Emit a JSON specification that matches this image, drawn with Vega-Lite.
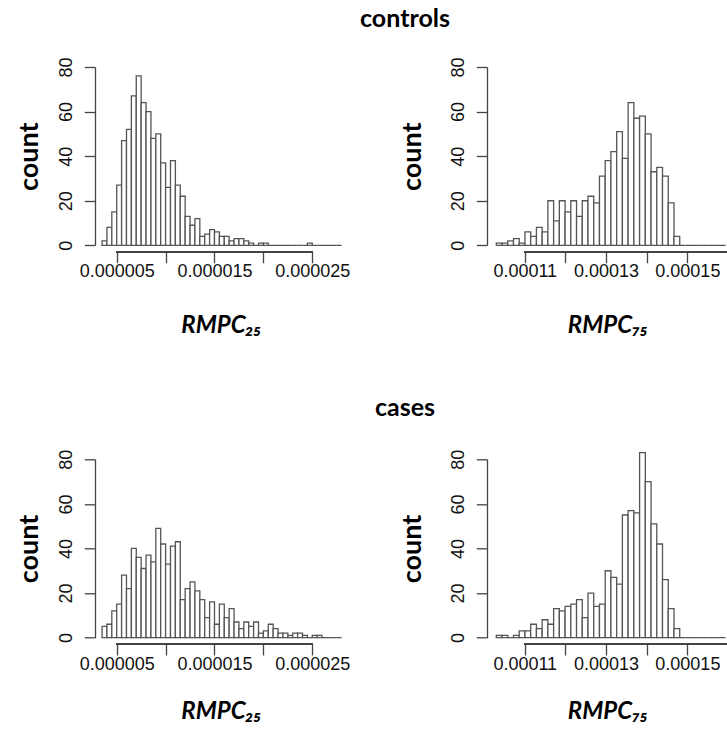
{
  "$schema": "https://vega.github.io/schema/vega-lite/v6.json",
  "background": "white",
  "padding": {"left": 15, "top": 6, "right": 0, "bottom": 0},
  "config": {
    "view": {"stroke": null},
    "axis": {
      "grid": false,
      "labelFont": "Liberation Sans",
      "labelFontSize": 18,
      "labelColor": "#111111",
      "titleFont": "Lato",
      "titleFontWeight": "bold",
      "titleFontSize": 24,
      "titleColor": "#000000",
      "domainColor": "#444444",
      "tickColor": "#444444",
      "domainWidth": 1.3,
      "tickWidth": 1.3,
      "tickSize": 10.7
    },
    "axisY": {"titleFontSize": 27},
    "title": {"font": "Lato", "fontSize": 25, "fontWeight": "bold", "color": "#000000", "anchor": "middle", "frame": "group", "dx": 310, "offset": 25}
  },
  "datasets": {
    "r25": [
      {"lo": 3.5e-6, "hi": 4.0e-6, "controls": 2, "cases": 5},
      {"lo": 4.0e-6, "hi": 4.5e-6, "controls": 8, "cases": 6},
      {"lo": 4.5e-6, "hi": 5.0e-6, "controls": 15, "cases": 12},
      {"lo": 5.0e-6, "hi": 5.5e-6, "controls": 27, "cases": 15},
      {"lo": 5.5e-6, "hi": 6.0e-6, "controls": 47, "cases": 28},
      {"lo": 6.0e-6, "hi": 6.5e-6, "controls": 52, "cases": 22},
      {"lo": 6.5e-6, "hi": 7.0e-6, "controls": 67, "cases": 40},
      {"lo": 7.0e-6, "hi": 7.5e-6, "controls": 76, "cases": 36},
      {"lo": 7.5e-6, "hi": 8.0e-6, "controls": 64, "cases": 31},
      {"lo": 8.0e-6, "hi": 8.5e-6, "controls": 60, "cases": 37},
      {"lo": 8.5e-6, "hi": 9.0e-6, "controls": 48, "cases": 34},
      {"lo": 9.0e-6, "hi": 9.5e-6, "controls": 50, "cases": 49},
      {"lo": 9.5e-6, "hi": 10.0e-6, "controls": 37, "cases": 42},
      {"lo": 10.0e-6, "hi": 10.5e-6, "controls": 26, "cases": 33},
      {"lo": 10.5e-6, "hi": 11.0e-6, "controls": 38, "cases": 41},
      {"lo": 11.0e-6, "hi": 11.5e-6, "controls": 27, "cases": 43},
      {"lo": 11.5e-6, "hi": 12.0e-6, "controls": 22, "cases": 17},
      {"lo": 12.0e-6, "hi": 12.5e-6, "controls": 13, "cases": 22},
      {"lo": 12.5e-6, "hi": 13.0e-6, "controls": 9, "cases": 25},
      {"lo": 13.0e-6, "hi": 13.5e-6, "controls": 12, "cases": 21},
      {"lo": 13.5e-6, "hi": 14.0e-6, "controls": 4, "cases": 17},
      {"lo": 14.0e-6, "hi": 14.5e-6, "controls": 5, "cases": 9},
      {"lo": 14.5e-6, "hi": 15.0e-6, "controls": 7, "cases": 16},
      {"lo": 15.0e-6, "hi": 15.5e-6, "controls": 6, "cases": 6},
      {"lo": 15.5e-6, "hi": 16.0e-6, "controls": 4, "cases": 15},
      {"lo": 16.0e-6, "hi": 16.5e-6, "controls": 4, "cases": 9},
      {"lo": 16.5e-6, "hi": 17.0e-6, "controls": 2, "cases": 13},
      {"lo": 17.0e-6, "hi": 17.5e-6, "controls": 3, "cases": 7},
      {"lo": 17.5e-6, "hi": 18.0e-6, "controls": 3, "cases": 4},
      {"lo": 18.0e-6, "hi": 18.5e-6, "controls": 2, "cases": 7},
      {"lo": 18.5e-6, "hi": 19.0e-6, "controls": 1, "cases": 5},
      {"lo": 19.0e-6, "hi": 19.5e-6, "controls": 0, "cases": 7},
      {"lo": 19.5e-6, "hi": 20.0e-6, "controls": 1, "cases": 2},
      {"lo": 20.0e-6, "hi": 20.5e-6, "controls": 1, "cases": 3},
      {"lo": 20.5e-6, "hi": 21.0e-6, "controls": 0, "cases": 6},
      {"lo": 21.0e-6, "hi": 21.5e-6, "controls": 0, "cases": 4},
      {"lo": 21.5e-6, "hi": 22.0e-6, "controls": 0, "cases": 2},
      {"lo": 22.0e-6, "hi": 22.5e-6, "controls": 0, "cases": 2},
      {"lo": 22.5e-6, "hi": 23.0e-6, "controls": 0, "cases": 1},
      {"lo": 23.0e-6, "hi": 23.5e-6, "controls": 0, "cases": 2},
      {"lo": 23.5e-6, "hi": 24.0e-6, "controls": 0, "cases": 2},
      {"lo": 24.0e-6, "hi": 24.5e-6, "controls": 0, "cases": 1},
      {"lo": 24.5e-6, "hi": 25.0e-6, "controls": 1, "cases": 0},
      {"lo": 25.0e-6, "hi": 25.5e-6, "controls": 0, "cases": 1},
      {"lo": 25.5e-6, "hi": 26.0e-6, "controls": 0, "cases": 1},
      {"lo": 26.0e-6, "hi": 26.5e-6, "controls": 0, "cases": 0},
      {"lo": 26.5e-6, "hi": 27.0e-6, "controls": 0, "cases": 0},
      {"lo": 27.0e-6, "hi": 27.5e-6, "controls": 0, "cases": 0},
      {"lo": 27.5e-6, "hi": 28.0e-6, "controls": 0, "cases": 0}
    ],
    "r75": [
      {"lo": 1.0300e-4, "hi": 1.0441e-4, "controls": 1, "cases": 1},
      {"lo": 1.0441e-4, "hi": 1.0582e-4, "controls": 1, "cases": 1},
      {"lo": 1.0582e-4, "hi": 1.0723e-4, "controls": 2, "cases": 0},
      {"lo": 1.0723e-4, "hi": 1.0864e-4, "controls": 3, "cases": 1},
      {"lo": 1.0864e-4, "hi": 1.1005e-4, "controls": 1, "cases": 3},
      {"lo": 1.1005e-4, "hi": 1.1146e-4, "controls": 6, "cases": 3},
      {"lo": 1.1146e-4, "hi": 1.1287e-4, "controls": 4, "cases": 6},
      {"lo": 1.1287e-4, "hi": 1.1428e-4, "controls": 8, "cases": 4},
      {"lo": 1.1428e-4, "hi": 1.1569e-4, "controls": 6, "cases": 8},
      {"lo": 1.1569e-4, "hi": 1.1710e-4, "controls": 20, "cases": 6},
      {"lo": 1.1710e-4, "hi": 1.1851e-4, "controls": 11, "cases": 13},
      {"lo": 1.1851e-4, "hi": 1.1992e-4, "controls": 20, "cases": 12},
      {"lo": 1.1992e-4, "hi": 1.2133e-4, "controls": 15, "cases": 14},
      {"lo": 1.2133e-4, "hi": 1.2274e-4, "controls": 20, "cases": 15},
      {"lo": 1.2274e-4, "hi": 1.2415e-4, "controls": 13, "cases": 17},
      {"lo": 1.2415e-4, "hi": 1.2556e-4, "controls": 20, "cases": 9},
      {"lo": 1.2556e-4, "hi": 1.2697e-4, "controls": 22, "cases": 20},
      {"lo": 1.2697e-4, "hi": 1.2838e-4, "controls": 19, "cases": 14},
      {"lo": 1.2838e-4, "hi": 1.2979e-4, "controls": 31, "cases": 15},
      {"lo": 1.2979e-4, "hi": 1.3120e-4, "controls": 38, "cases": 30},
      {"lo": 1.3120e-4, "hi": 1.3261e-4, "controls": 42, "cases": 27},
      {"lo": 1.3261e-4, "hi": 1.3402e-4, "controls": 51, "cases": 24},
      {"lo": 1.3402e-4, "hi": 1.3543e-4, "controls": 39, "cases": 55},
      {"lo": 1.3543e-4, "hi": 1.3684e-4, "controls": 64, "cases": 57},
      {"lo": 1.3684e-4, "hi": 1.3825e-4, "controls": 57, "cases": 56},
      {"lo": 1.3825e-4, "hi": 1.3966e-4, "controls": 58, "cases": 83},
      {"lo": 1.3966e-4, "hi": 1.4107e-4, "controls": 50, "cases": 70},
      {"lo": 1.4107e-4, "hi": 1.4248e-4, "controls": 33, "cases": 51},
      {"lo": 1.4248e-4, "hi": 1.4389e-4, "controls": 35, "cases": 42},
      {"lo": 1.4389e-4, "hi": 1.4530e-4, "controls": 31, "cases": 26},
      {"lo": 1.4530e-4, "hi": 1.4671e-4, "controls": 19, "cases": 13},
      {"lo": 1.4671e-4, "hi": 1.4812e-4, "controls": 4, "cases": 4},
      {"lo": 1.4812e-4, "hi": 1.4953e-4, "controls": 0, "cases": 0},
      {"lo": 1.4953e-4, "hi": 1.5094e-4, "controls": 0, "cases": 0},
      {"lo": 1.5094e-4, "hi": 1.5235e-4, "controls": 0, "cases": 0},
      {"lo": 1.5235e-4, "hi": 1.5376e-4, "controls": 0, "cases": 0},
      {"lo": 1.5376e-4, "hi": 1.5517e-4, "controls": 0, "cases": 0},
      {"lo": 1.5517e-4, "hi": 1.5658e-4, "controls": 0, "cases": 0},
      {"lo": 1.5658e-4, "hi": 1.5799e-4, "controls": 0, "cases": 0},
      {"lo": 1.5799e-4, "hi": 1.5940e-4, "controls": 0, "cases": 0}
    ]
  },
  "bounds": "flush",
  "spacing": 392.3,
  "vconcat": [
    {
      "title": "controls",
      "bounds": "flush",
      "spacing": 140,
      "hconcat": [
        {
          "width": 252, "height": 178.3,
          "data": {"name": "r25"},
          "layer": [
            {
              "mark": {"type": "rect", "fill": "white", "stroke": "#555555", "strokeWidth": 1.3},
              "encoding": {
                "x": {"field": "lo", "type": "quantitative", "scale": {"domain": [2.78e-6, 2.855e-5], "nice": false, "zero": false},
                  "axis": {"values": [5e-6, 1e-5, 1.5e-5, 2e-5, 2.5e-5], "labelExpr": "abs(datum.value-0.00001)<1e-9 || abs(datum.value-0.00002)<1e-9 ? '' : format(datum.value, '.6f')", "offset": 6.7, "domain": false, "labelPadding": 0, "labelOverlap": false, "labelFlush": false, "title": "RMPC₂₅", "titleFontStyle": "italic", "titlePadding": 33}},
                "x2": {"field": "hi"},
                "y": {"field": "controls", "type": "quantitative", "scale": {"domain": [0, 80], "nice": false},
                  "axis": {"values": [0, 20, 40, 60, 80], "labelAngle": -90, "labelAlign": "center", "labelBaseline": "alphabetic", "labelPadding": 12.6, "title": "count", "titlePadding": 14}},
                "y2": {"datum": 0}
              }
            },
            {
              "mark": {"type": "rule", "color": "#444444", "strokeWidth": 1.3},
              "encoding": {"x": {"datum": 5e-6}, "x2": {"datum": 2.5e-5}, "y": {"datum": -3}}
            }
          ]
        },
        {
          "width": 241, "height": 178.3,
          "data": {"name": "r75"},
          "layer": [
            {
              "mark": {"type": "rect", "fill": "white", "stroke": "#555555", "strokeWidth": 1.3},
              "encoding": {
                "x": {"field": "lo", "type": "quantitative", "scale": {"domain": [1.0071e-4, 1.6e-4], "nice": false, "zero": false},
                  "axis": {"values": [1.1e-4, 1.2e-4, 1.3e-4, 1.4e-4, 1.5e-4, 1.6e-4], "labelExpr": "abs(datum.value-0.00012)<1e-9 || abs(datum.value-0.00014)<1e-9 || abs(datum.value-0.00016)<1e-9 ? '' : format(datum.value, '.5f')", "offset": 6.7, "domain": false, "labelPadding": 0, "labelOverlap": false, "labelFlush": false, "title": "RMPC₇₅", "titleFontStyle": "italic", "titlePadding": 33}},
                "x2": {"field": "hi"},
                "y": {"field": "controls", "type": "quantitative", "scale": {"domain": [0, 80], "nice": false},
                  "axis": {"values": [0, 20, 40, 60, 80], "labelAngle": -90, "labelAlign": "center", "labelBaseline": "alphabetic", "labelPadding": 12.6, "title": "count", "titlePadding": 23}},
                "y2": {"datum": 0}
              }
            },
            {
              "mark": {"type": "rule", "color": "#444444", "strokeWidth": 1.3},
              "encoding": {"x": {"datum": 1.1e-4}, "x2": {"datum": 1.6e-4}, "y": {"datum": -3}}
            }
          ]
        }
      ]
    },
    {
      "title": {"text": "cases", "offset": 28},
      "bounds": "flush",
      "spacing": 140,
      "hconcat": [
        {
          "width": 252, "height": 178.3,
          "data": {"name": "r25"},
          "layer": [
            {
              "mark": {"type": "rect", "fill": "white", "stroke": "#555555", "strokeWidth": 1.3},
              "encoding": {
                "x": {"field": "lo", "type": "quantitative", "scale": {"domain": [2.78e-6, 2.855e-5], "nice": false, "zero": false},
                  "axis": {"values": [5e-6, 1e-5, 1.5e-5, 2e-5, 2.5e-5], "labelExpr": "abs(datum.value-0.00001)<1e-9 || abs(datum.value-0.00002)<1e-9 ? '' : format(datum.value, '.6f')", "offset": 6.7, "domain": false, "labelPadding": 0, "labelOverlap": false, "labelFlush": false, "title": "RMPC₂₅", "titleFontStyle": "italic", "titlePadding": 26}},
                "x2": {"field": "hi"},
                "y": {"field": "cases", "type": "quantitative", "scale": {"domain": [0, 80], "nice": false},
                  "axis": {"values": [0, 20, 40, 60, 80], "labelAngle": -90, "labelAlign": "center", "labelBaseline": "alphabetic", "labelPadding": 12.6, "title": "count", "titlePadding": 14}},
                "y2": {"datum": 0}
              }
            },
            {
              "mark": {"type": "rule", "color": "#444444", "strokeWidth": 1.3},
              "encoding": {"x": {"datum": 5e-6}, "x2": {"datum": 2.5e-5}, "y": {"datum": -3}}
            }
          ]
        },
        {
          "width": 241, "height": 178.3,
          "data": {"name": "r75"},
          "layer": [
            {
              "mark": {"type": "rect", "fill": "white", "stroke": "#555555", "strokeWidth": 1.3},
              "encoding": {
                "x": {"field": "lo", "type": "quantitative", "scale": {"domain": [1.0071e-4, 1.6e-4], "nice": false, "zero": false},
                  "axis": {"values": [1.1e-4, 1.2e-4, 1.3e-4, 1.4e-4, 1.5e-4, 1.6e-4], "labelExpr": "abs(datum.value-0.00012)<1e-9 || abs(datum.value-0.00014)<1e-9 || abs(datum.value-0.00016)<1e-9 ? '' : format(datum.value, '.5f')", "offset": 6.7, "domain": false, "labelPadding": 0, "labelOverlap": false, "labelFlush": false, "title": "RMPC₇₅", "titleFontStyle": "italic", "titlePadding": 26}},
                "x2": {"field": "hi"},
                "y": {"field": "cases", "type": "quantitative", "scale": {"domain": [0, 80], "nice": false},
                  "axis": {"values": [0, 20, 40, 60, 80], "labelAngle": -90, "labelAlign": "center", "labelBaseline": "alphabetic", "labelPadding": 12.6, "title": "count", "titlePadding": 23}},
                "y2": {"datum": 0}
              }
            },
            {
              "mark": {"type": "rule", "color": "#444444", "strokeWidth": 1.3},
              "encoding": {"x": {"datum": 1.1e-4}, "x2": {"datum": 1.6e-4}, "y": {"datum": -3}}
            }
          ]
        }
      ]
    }
  ]
}
